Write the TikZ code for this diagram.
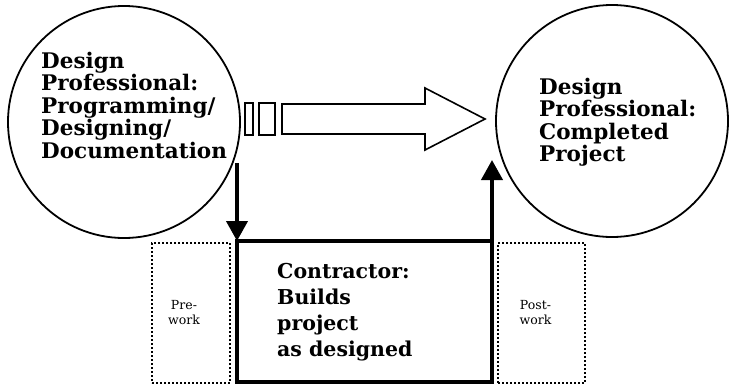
\documentclass[tikz,border=0pt]{standalone}
\usepackage{fontspec}
\setmainfont{DejaVu Serif}
\usetikzlibrary{arrows.meta}
\tikzset{
  bigcircle/.style={circle, draw, line width=1.8pt, minimum size=232pt, inner sep=0pt},
  bigtext/.style={font=\fontsize{21.5}{22.5}\selectfont\bfseries, align=left, inner sep=0pt},
  cbox/.style={draw, line width=3.5pt, minimum width=255pt, minimum height=141pt, inner sep=0pt, outer sep=0pt},
  dotbox/.style={draw, line width=2.2pt, dash pattern=on 2pt off 2pt, inner sep=0pt},
  smalltext/.style={font=\fontsize{12.5}{15}\selectfont, align=center, inner sep=0pt},
  flow/.style={line width=4pt, -{Triangle[width=21pt,length=20pt]}},
  hollow/.style={draw, line width=1.6pt, fill=white},
}
\begin{document}
\begin{tikzpicture}[x=1pt,y=-1pt]
\useasboundingbox (0,0) rectangle (731,386);
% circles
\node[bigcircle] (L) at (124,122) {};
\node[bigcircle] (R) at (612,121) {};
\node[bigtext, anchor=west] (Lt) at (41,105) {Design\\Professional:\\Programming/\\Designing/\\Documentation};
\node[bigtext, anchor=west] (Rt) at (539,122) {Design\\Professional:\\Completed\\Project};
% dotted boxes
\node[dotbox, minimum width=78pt, minimum height=140pt] (pre) at (191,313) {};
\node[dotbox, minimum width=87pt, minimum height=140pt] (post) at (541.5,313) {};
\node[smalltext] at ([xshift=-7pt]pre.center) {Pre-\\work};
\node[smalltext] at ([xshift=-6pt]post.center) {Post-\\work};
% contractor box
\node[cbox] (C) at (364.5,311.5) {};
\node[font=\fontsize{20.5}{26}\selectfont\bfseries, align=left, inner sep=0pt, anchor=west] (Ct) at (277,312) {Contractor:\\Builds\\project\\as designed};
% hollow arrow
\node[hollow, minimum width=8pt, minimum height=32pt] (b1) at (249,119) {};
\node[hollow, minimum width=16pt, minimum height=32pt] (b2) at (267,119) {};
\draw[line width=1.6pt] (282,104) -- (425,104) -- (425,88) -- (485,119) -- (425,150) -- (425,134) -- (282,134) -- cycle;
% vertical arrows
\coordinate (dstart) at (237,163);
\coordinate (uend) at (492,160);
\draw[flow] (dstart) -- (C.north west);
\draw[flow] (C.north east) -- (uend);
\end{tikzpicture}
\end{document}
